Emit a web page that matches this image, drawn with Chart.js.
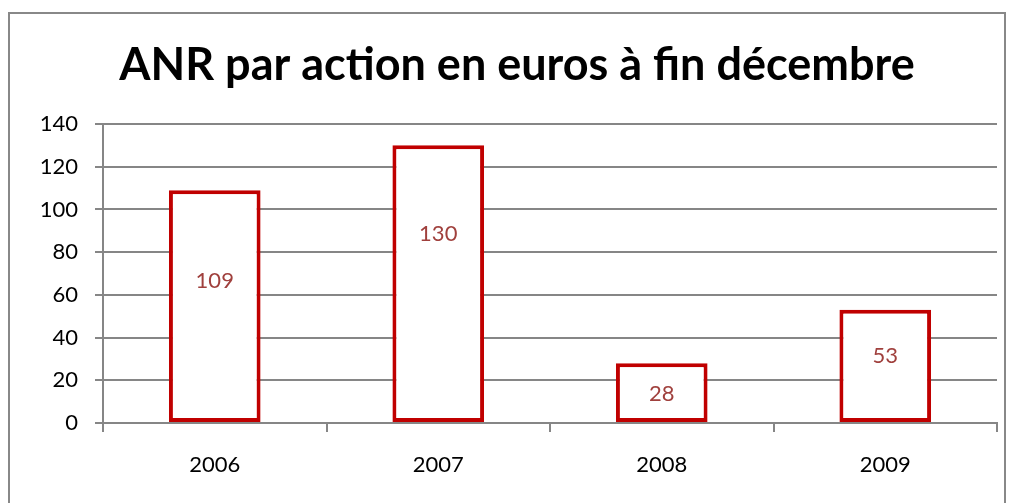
<!DOCTYPE html>
<html>
<head>
<meta charset="utf-8">
<script src="https://cdn.jsdelivr.net/npm/chart.js@4"></script>
<style>
    html, body { margin: 0; padding: 0; background: #fff; }
    #wrap { width: 1012px; height: 503px; position: relative; }
</style>
</head>
<body>
<div id="wrap"><canvas id="anr-chart"></canvas></div>
<script>
const years = ['2006', '2007', '2008', '2009']
const anrValues = [109, 130, 28, 53]
const yTicks = [0, 20, 40, 60, 80, 100, 120, 140]

const fontFamily = 'Lato, "Open Sans", sans-serif'
// where each value label sits, as a share of its bar height (labels were placed by hand in the original)
const labelLift = [0.61, 0.68, 0.47, 0.59]

// outer frame like the spreadsheet chart border
const framePlugin = {
    id: 'frame',
    beforeDraw(chart) {
        const c = chart.ctx
        c.save()
        c.strokeStyle = '#888888'
        c.lineWidth = 2
        c.strokeRect(9, 13, 996, 500)
        c.restore()
    }
}

// value labels inside each bar
const valueLabels = {
    id: 'valueLabels',
    afterDatasetsDraw(chart) {
        const c = chart.ctx
        const meta = chart.getDatasetMeta(0)
        c.save()
        c.fillStyle = '#a0403d'
        c.font = '22px ' + fontFamily
        c.textAlign = 'center'
        c.textBaseline = 'middle'
        meta.data.forEach((bar, i) => {
            const y = bar.base - (bar.base - bar.y) * labelLift[i]
            c.fillText(anrValues[i], bar.x, y)
        })
        c.restore()
    }
}

const anrData = {
    labels: years,
    datasets: [{
        data: anrValues,
        backgroundColor: '#ffffff',
        borderColor: '#c00000',
        borderWidth: 4,
        borderSkipped: false,
        barPercentage: 0.41,
        categoryPercentage: 1,
    }]
}

const anrConfig = {
    type: 'bar',
    data: anrData,
    plugins: [framePlugin, valueLabels],
    options: {
        responsive: true,
        maintainAspectRatio: false,
        animation: false,
        layout: { padding: { left: 37, right: 15, top: 0, bottom: 0 } },
        plugins: {
            legend: { display: false },
            tooltip: { enabled: false },
            title: {
                display: true,
                text: 'ANR par action en euros à fin décembre',
                color: '#000000',
                font: { family: fontFamily, size: 45, weight: 'bold', lineHeight: 1.2 },
                padding: { top: 38, bottom: 32 },
            },
        },
        scales: {
            x: {
                grid: {
                    offset: true,
                    drawOnChartArea: false,
                    drawTicks: true,
                    tickLength: 9,
                    color: '#868686',
                    lineWidth: 2,
                },
                border: { color: '#868686', width: 2 },
                ticks: {
                    color: '#000000',
                    font: { family: fontFamily, size: 22 },
                    padding: 20,
                },
                afterFit(scale) { scale.height = 80 },
            },
            y: {
                min: 0,
                max: 140,
                afterBuildTicks(scale) {
                    scale.ticks = yTicks.map(v => ({ value: v }))
                },
                grid: {
                    color: '#868686',
                    lineWidth: 2,
                    tickLength: 8,
                },
                border: { color: '#868686', width: 2 },
                ticks: {
                    color: '#000000',
                    font: { family: fontFamily, size: 22 },
                    padding: 17,
                },
                afterFit(scale) { scale.width = 66 },
            },
        },
    },
}

const ctx = document.getElementById('anr-chart')
const anrChart = new Chart(ctx, anrConfig)
</script>
</body>
</html>
